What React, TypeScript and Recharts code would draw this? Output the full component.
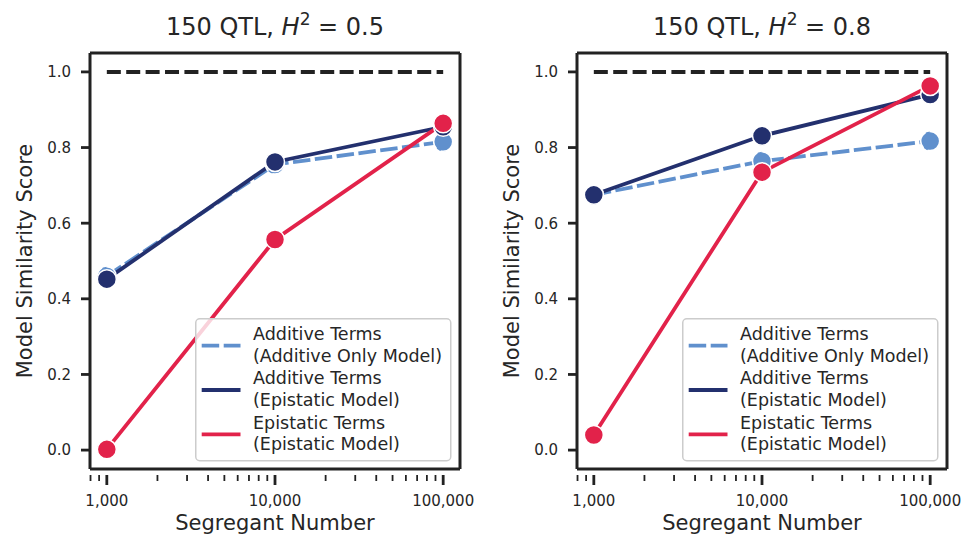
import React from 'react';
import { LineChart, Line, XAxis, YAxis, Legend, Customized, ReferenceLine } from 'recharts';

// ---------- data ----------
const segregants = [1000, 10000, 100000];

const h05AdditiveOnly = [0.46, 0.755, 0.815];
const h05AdditiveEpi = [0.452, 0.762, 0.855];
const h05Epistatic = [0.002, 0.557, 0.864];

const h08AdditiveOnly = [0.675, 0.764, 0.817];
const h08AdditiveEpi = [0.675, 0.831, 0.94];
const h08Epistatic = [0.04, 0.735, 0.963];

const perfectX = [1000, 100000];
const perfectY = [1.0, 1.0];

const xDomain = [794.3, 125893];
const yDomain = [-0.05, 1.05];

const majorTicks = [1000, 10000, 100000];
const minorTicks = [800, 900, 2000, 3000, 4000, 5000, 6000, 7000, 8000, 9000,
  20000, 30000, 40000, 50000, 60000, 70000, 80000, 90000];
const yTicks = [0, 0.2, 0.4, 0.6, 0.8, 1.0];

const seriesNames = [
  ['Additive Terms', '(Additive Only Model)'],
  ['Additive Terms', '(Epistatic Model)'],
  ['Epistatic Terms', '(Epistatic Model)'],
];
const heritabilities = ['0.5', '0.8'];

// ---------- style ----------
const INK = '#222222';
const TXT = '#262626';
const LIGHT = '#6090CD';
const NAVY = '#23306E';
const RED = '#E2224A';
const LIGHT_DASH = '17.5 4.5';
const FONT = '"DejaVu Sans", Verdana, sans-serif';

const toPoints = (xs: number[], ys: number[]) => xs.map((x, i) => ({ x, y: ys[i] }));

const allXTicks = [...minorTicks, ...majorTicks].sort((a, b) => a - b);

const XTick = (props: any) => {
  const { x, y, payload } = props;
  const v = payload.value as number;
  const major = majorTicks.includes(v);
  return (
    <g>
      <line x1={x} x2={x} y1={y} y2={y + (major ? 10 : 6)} stroke={INK} strokeWidth={major ? 2.8 : 1.8} />
      {major && (
        <text x={x} y={y + 31} textAnchor="middle" fontSize={15} fill={TXT} fontFamily={FONT}>
          {v.toLocaleString('en-US')}
        </text>
      )}
    </g>
  );
};

const legendColors = [LIGHT, NAVY, RED];
const legendDashes = [LIGHT_DASH, undefined, undefined];

const LegendBox = () => (
  <svg width={257} height={144} style={{ display: 'block', overflow: 'visible' }}>
    <rect x={0.75} y={0.75} width={255} height={142} rx={4} ry={4}
      fill="#ffffff" fillOpacity={0.8} stroke="#cccccc" strokeWidth={1.5} />
    {seriesNames.map((name, i) => {
      const base = 22 + i * 44.3;
      const ly = 27.7 + i * 44.3;
      return (
        <g key={i}>
          <line x1={6.7} x2={45.5} y1={ly} y2={ly} stroke={legendColors[i]} strokeWidth={3.8}
            strokeDasharray={legendDashes[i]} />
          <text fontSize={17.5} fill={TXT} fontFamily={FONT}>
            <tspan x={58} y={base}>{name[0]}</tspan>
            <tspan x={58} y={base + 21.6}>{name[1]}</tspan>
          </text>
        </g>
      );
    })}
  </svg>
);

const PanelText = ({ h }: { h: string }) => (
  <g fontFamily={FONT} fill={TXT}>
    <text x={275} y={35} textAnchor="middle" fontSize={24}>
      150 QTL, <tspan fontStyle="italic">H</tspan>
      <tspan dy={-10} fontSize={17}>2</tspan>
      <tspan dy={10}> = {h}</tspan>
    </text>
    <text x={275} y={530} textAnchor="middle" fontSize={21}>Segregant Number</text>
    <text transform="translate(32,261) rotate(-90)" textAnchor="middle" fontSize={21}>
      Model Similarity Score
    </text>
  </g>
);

type PanelProps = { h: string; additiveOnly: number[]; additiveEpi: number[]; epistatic: number[] };

const dotStyle = (c: string) => ({ r: 9.5, fill: c, stroke: '#ffffff', strokeWidth: 1.5 });

const Panel = ({ h, additiveOnly, additiveEpi, epistatic }: PanelProps) => (
  <LineChart width={480} height={536} margin={{ top: 53, right: 20, bottom: 37, left: 10 }}
    style={{ fontFamily: FONT }}>
    <XAxis xAxisId="main" dataKey="x" type="number" scale="log" domain={xDomain}
      allowDataOverflow ticks={allXTicks} interval={0} tickLine={false} tickMargin={0}
      tick={<XTick />} axisLine={{ stroke: INK, strokeWidth: 3 }} height={30} />
    <YAxis yAxisId="main" type="number" domain={yDomain} allowDataOverflow ticks={yTicks}
      interval={0} width={80} tickSize={9} tickMargin={10}
      tickFormatter={(v: number) => v.toFixed(1)}
      tick={{ fontSize: 15, fill: TXT, fontFamily: FONT }}
      tickLine={{ stroke: INK, strokeWidth: 2.8 }} axisLine={{ stroke: INK, strokeWidth: 3 }} />

    {/* top and right spines */}
    <ReferenceLine xAxisId="main" yAxisId="main" y={yDomain[1]} stroke={INK} strokeWidth={3} ifOverflow="visible" />
    <ReferenceLine xAxisId="main" yAxisId="main" x={xDomain[1]} stroke={INK} strokeWidth={3} ifOverflow="visible" />

    <Line xAxisId="main" yAxisId="main" data={toPoints(perfectX, perfectY)} dataKey="y"
      stroke={INK} strokeWidth={4} strokeDasharray="14 5.4" dot={false} activeDot={false}
      isAnimationActive={false} legendType="none" />
    <Line xAxisId="main" yAxisId="main" data={toPoints(segregants, additiveOnly)} dataKey="y"
      name={seriesNames[0].join(' ')} stroke={LIGHT} strokeWidth={3.8} strokeDasharray={LIGHT_DASH}
      dot={dotStyle(LIGHT)} activeDot={false} isAnimationActive={false} />
    <Line xAxisId="main" yAxisId="main" data={toPoints(segregants, additiveEpi)} dataKey="y"
      name={seriesNames[1].join(' ')} stroke={NAVY} strokeWidth={3.8}
      dot={dotStyle(NAVY)} activeDot={false} isAnimationActive={false} />
    <Line xAxisId="main" yAxisId="main" data={toPoints(segregants, epistatic)} dataKey="y"
      name={seriesNames[2].join(' ')} stroke={RED} strokeWidth={3.8}
      dot={dotStyle(RED)} activeDot={false} isAnimationActive={false} />

    <Legend layout="vertical" align="center" verticalAlign="middle" content={() => <LegendBox />}
      wrapperStyle={{ left: 195, top: 318, width: 257, height: 144 }} />
    <Customized component={<PanelText h={h} />} />
  </LineChart>
);

export default function App() {
  return (
    <div style={{ position: 'absolute', left: 0, top: 0, width: 969, height: 536, background: '#ffffff', fontFamily: FONT }}>
      <div style={{ position: 'absolute', left: 0, top: 0 }}>
        <Panel h={heritabilities[0]} additiveOnly={h05AdditiveOnly} additiveEpi={h05AdditiveEpi} epistatic={h05Epistatic} />
      </div>
      <div style={{ position: 'absolute', left: 487, top: 0 }}>
        <Panel h={heritabilities[1]} additiveOnly={h08AdditiveOnly} additiveEpi={h08AdditiveEpi} epistatic={h08Epistatic} />
      </div>
    </div>
  );
}
